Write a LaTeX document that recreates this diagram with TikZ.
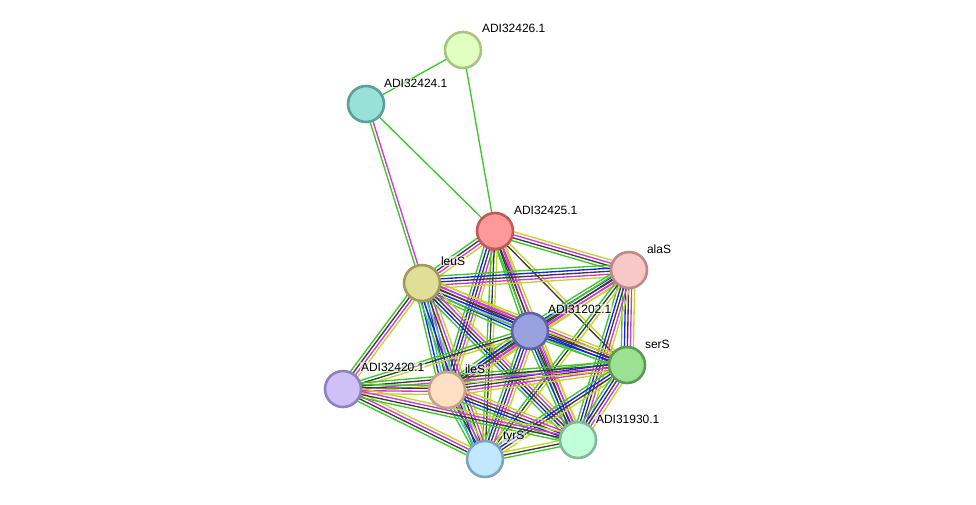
\documentclass[tikz,border=0pt]{standalone}
\usepackage{fontspec}
\setmainfont{Liberation Sans}
\usetikzlibrary{calc}

% evidence channel colours
\definecolor{G}{RGB}{60,200,40}
\definecolor{Y}{RGB}{195,212,40}
\definecolor{M}{RGB}{220,50,220}
\definecolor{K}{RGB}{60,60,60}
\definecolor{B}{RGB}{30,30,240}
\definecolor{C}{RGB}{50,190,220}
\definecolor{L}{RGB}{165,165,240}

% protein fill / border colours
\definecolor{f26}{RGB}{224,255,192}   \definecolor{d26}{RGB}{168,196,128}
\definecolor{f24}{RGB}{152,224,216}   \definecolor{d24}{RGB}{88,160,152}
\definecolor{f25}{RGB}{255,152,152}   \definecolor{d25}{RGB}{196,88,88}
\definecolor{fala}{RGB}{248,200,200}  \definecolor{dala}{RGB}{192,136,136}
\definecolor{fleu}{RGB}{224,222,152}  \definecolor{dleu}{RGB}{160,156,88}
\definecolor{f202}{RGB}{152,160,224}  \definecolor{d202}{RGB}{92,100,164}
\definecolor{fser}{RGB}{156,224,148}  \definecolor{dser}{RGB}{88,156,80}
\definecolor{f420}{RGB}{208,192,248}  \definecolor{d420}{RGB}{144,128,192}
\definecolor{file}{RGB}{255,224,196}  \definecolor{dile}{RGB}{196,164,136}
\definecolor{f930}{RGB}{192,255,216}  \definecolor{d930}{RGB}{128,184,152}
\definecolor{ftyr}{RGB}{192,232,255}  \definecolor{dtyr}{RGB}{128,164,188}

\tikzset{
  prot/.style={circle, minimum size=36pt, inner sep=0pt, line width=2.6pt, fill=f#1, draw=d#1},
  lbl/.style={anchor=west, font=\fontsize{12}{14}\selectfont, inner sep=0.8pt,
              fill=white, fill opacity=0.55, text opacity=1},
  edge/.style={line width=1.35pt},
}

% draw a bundle of parallel evidence lines between two nodes
\newcommand\bund[3]{%
  \foreach \c [count=\n] in {#3} {\xdef\bundn{\n}}%
  \foreach \c [count=\i] in {#3} {%
    \pgfmathsetmacro\off{(\i-(\bundn+1)/2)*3.0}%
    \draw[edge, \c] ($(#1)!\off pt!90:(#2)$) -- ($(#2)!\off pt!-90:(#1)$);
  }%
}

\begin{document}
\begin{tikzpicture}[x=1pt, y=-1pt]
\useasboundingbox (0,0) rectangle (976,504);

% node centres
\coordinate (n26) at (463,50);
\coordinate (n24) at (366,104);
\coordinate (n25) at (495,231);
\coordinate (ala) at (629,270);
\coordinate (leu) at (422,283);
\coordinate (n202) at (530,331);
\coordinate (ser) at (627,365);
\coordinate (n420) at (343,389);
\coordinate (ile) at (447,390);
\coordinate (n930) at (578,440);
\coordinate (tyr) at (485,459);

% edges
\bund{n26}{n24}{G}
\bund{n26}{n25}{G}
\bund{n24}{n25}{G}
\bund{n24}{leu}{G,M}

\bund{n25}{ala}{G,K,M,Y}
\bund{n25}{leu}{G,K,M,Y}
\bund{n25}{n202}{G,K,M,Y}
\bund{n25}{ser}{K,Y}
\bund{n25}{ile}{G,B,K,M,Y}
\bund{n25}{tyr}{G,K,Y}
\bund{n25}{n930}{G,K,M,Y}

\bund{ala}{leu}{G,B,K,M,Y}
\bund{ala}{n202}{G,B,K,M,Y}
\bund{ala}{ser}{G,B,K,M,Y}
\bund{ala}{ile}{G,K,M,Y}
\bund{ala}{n930}{G,B,K,M,Y}
\bund{ala}{tyr}{G,K,Y}

\bund{leu}{n202}{G,B,L,K,M,Y}
\bund{leu}{ser}{G,B,K,M,Y}
\bund{leu}{n420}{G,K,M,Y}
\bund{leu}{ile}{G,B,C,K,M,Y}
\bund{leu}{tyr}{G,B,C,K,M,Y}
\bund{leu}{n930}{G,B,K,M,Y}

\bund{n202}{ser}{G,B,K,Y}
\bund{n202}{ile}{G,B,K,M,Y}
\bund{n202}{tyr}{G,B,K,M,Y}
\bund{n202}{n930}{G,B,K,M,Y}
\bund{n202}{n420}{G,K,Y}

\bund{ser}{ile}{G,B,K,M,Y}
\bund{ser}{tyr}{G,B,K,Y}
\bund{ser}{n930}{G,B,K,M,Y}
\bund{ser}{n420}{G,K,M,Y}

\bund{ile}{n420}{G,K,M,Y}
\bund{ile}{tyr}{G,C,K,M,Y}
\bund{ile}{n930}{G,B,K,M,Y}

\bund{n420}{tyr}{G,K,M,Y}
\bund{n420}{n930}{G,K,M,Y}
\bund{tyr}{n930}{G,K,Y}

% proteins
\node[prot=26] (p26) at (n26) {};
\node[prot=24] (p24) at (n24) {};
\node[prot=25] (p25) at (n25) {};
\node[prot=ala] (pala) at (ala) {};
\node[prot=leu] (pleu) at (leu) {};
\node[prot=202] (p202) at (n202) {};
\node[prot=ser] (pser) at (ser) {};
\node[prot=420] (p420) at (n420) {};
\node[prot=ile] (pile) at (ile) {};
\node[prot=930] (p930) at (n930) {};
\node[prot=tyr] (ptyr) at (tyr) {};

% labels
\node[lbl] (t26) at ([shift={(18,-22)}]n26) {ADI32426.1};
\node[lbl] (t24) at ([shift={(17,-21)}]n24) {ADI32424.1};
\node[lbl] (t25) at ([shift={(18,-21)}]n25) {ADI32425.1};
\node[lbl] (tala) at ([shift={(17,-21)}]ala) {alaS};
\node[lbl] (tleu) at ([shift={(18,-22)}]leu) {leuS};
\node[lbl] (t202) at ([shift={(17,-22)}]n202) {ADI31202.1};
\node[lbl] (tser) at ([shift={(17,-21)}]ser) {serS};
\node[lbl] (t420) at ([shift={(17,-22)}]n420) {ADI32420.1};
\node[lbl] (tile) at ([shift={(17,-21)}]ile) {ileS};
\node[lbl] (t930) at ([shift={(17,-21)}]n930) {ADI31930.1};
\node[lbl] (ttyr) at ([shift={(17,-22)}]tyr) {tyrS};
\end{tikzpicture}
\end{document}
